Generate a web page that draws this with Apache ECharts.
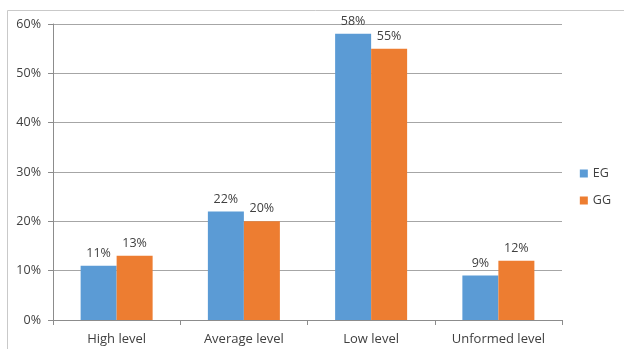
<!DOCTYPE html>
<html>
<head>
<meta charset="utf-8">
<script src="https://cdn.jsdelivr.net/npm/echarts@6/dist/echarts.min.js"></script>
<style>
  html, body { margin: 0; padding: 0; background: #fff; }
  #chart { width: 624px; height: 349px; }
</style>
</head>
<body>
<div id="chart"></div>
<script>
// Category names along the x axis
const categories = ['High level', 'Average level', 'Low level', 'Unformed level'];
// Share of respondents per level, in percent
const egValues = [11, 22, 58, 9];
const ggValues = [13, 20, 55, 12];
// Value axis ticks
const yTicks = [0, 10, 20, 30, 40, 50, 60];

const FONT = '"Open Sans", "Liberation Sans", sans-serif';
const chart = echarts.init(document.getElementById('chart'));

const labelStyle = {
  show: true,
  position: 'top',
  distance: 6,
  formatter: '{c}%',
  color: '#404040',
  fontFamily: FONT,
  fontSize: 12.5
};

chart.setOption({
  animation: false,
  textStyle: { fontFamily: FONT },
  grid: { left: 53, right: 62, top: 24, bottom: 29, containLabel: false },
  legend: {
    orient: 'vertical',
    right: 8,
    top: 162,
    itemWidth: 8,
    itemHeight: 8,
    itemGap: 14,
    icon: 'rect',
    textStyle: { color: '#404040', fontSize: 12.5, fontFamily: FONT },
    data: ['EG', 'GG']
  },
  graphic: [{
    type: 'polyline',
    shape: { points: [[7.5, 349], [7.5, 10.5], [624, 10.5]] },
    style: { stroke: '#c9c9c9', lineWidth: 1, fill: null }
  }],
  xAxis: {
    type: 'category',
    data: categories,
    axisLine: { lineStyle: { color: '#8c8c8c' } },
    axisTick: { show: true, length: 5, lineStyle: { color: '#8c8c8c' } },
    axisLabel: { color: '#404040', fontSize: 13, margin: 13, fontFamily: FONT }
  },
  yAxis: {
    type: 'value',
    min: yTicks[0],
    max: yTicks[yTicks.length - 1],
    interval: yTicks[1] - yTicks[0],
    axisLine: { show: true, lineStyle: { color: '#8c8c8c' } },
    axisTick: { show: true, length: 5, lineStyle: { color: '#8c8c8c' } },
    axisLabel: { formatter: '{value}%', color: '#404040', fontSize: 12.5, margin: 12, fontFamily: FONT },
    splitLine: { lineStyle: { color: '#a6a6a6' } }
  },
  series: [
    {
      name: 'EG',
      type: 'bar',
      data: egValues,
      barWidth: 36,
      barGap: '0%',
      itemStyle: { color: '#5B9BD5' },
      label: labelStyle
    },
    {
      name: 'GG',
      type: 'bar',
      data: ggValues,
      barWidth: 36,
      itemStyle: { color: '#ED7D31' },
      label: labelStyle
    }
  ]
});
</script>
</body>
</html>
